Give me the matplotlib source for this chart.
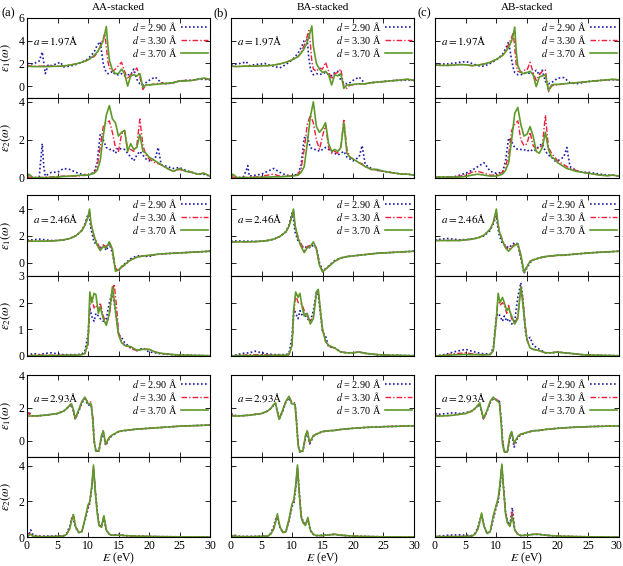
import matplotlib

matplotlib.use("Agg")
import matplotlib.pyplot as plt
from matplotlib.transforms import offset_copy

plt.rcParams["font.family"] = "serif"
plt.rcParams["font.serif"] = ["Liberation Serif", "DejaVu Serif"]
plt.rcParams["mathtext.fontset"] = "stix"

# ---- energy grids (eV), one per (lattice constant, quantity) ----
E1_197 = [0, 1, 2, 2.5, 3, 3.5, 4, 5, 5.5, 6, 7, 8, 9, 10, 11, 11.5, 12, 12.5, 12.75, 13, 13.25, 13.5,
          14, 14.5, 15, 15.5, 16, 16.5, 17, 17.5, 18, 18.5, 19, 19.5, 20, 21, 22, 23, 24, 25, 26, 27, 28, 29, 30]
E2_197 = [0, 0.3, 1, 2, 2.5, 2.75, 3, 4, 5, 6, 7, 8, 9, 10, 11, 11.5, 12, 12.5, 13, 13.5, 14, 14.5, 15,
          15.5, 16, 16.5, 17, 17.5, 18, 18.5, 19, 19.5, 20, 21, 21.5, 22, 23, 24, 25, 26, 27, 28, 29, 30]
E1_246 = [0, 1, 2, 3, 4, 5, 6, 7, 8, 9, 9.5, 10, 10.25, 10.5, 11, 11.5, 12, 12.5, 13, 13.5, 14, 14.5,
          15, 15.5, 16, 17, 18, 19, 20, 21, 22, 24, 26, 28, 30]
E2_246 = [0, 1, 2, 3, 4, 5, 6, 7, 8, 9, 9.5, 10, 10.3, 10.6, 11, 11.3, 11.7, 12, 12.5, 13, 13.5, 14,
          14.3, 14.7, 15, 15.5, 16, 17, 18, 19, 20, 21, 22, 24, 26, 28, 30]
E1_293 = [0, 0.3, 0.6, 1, 2, 3, 4, 5, 6, 6.5, 7, 7.3, 7.6, 7.9, 8.5, 9, 9.5, 10, 10.5, 10.8, 11, 11.3,
          11.8, 12.2, 12.5, 12.9, 13.5, 14, 15, 16, 17, 18, 20, 22, 25, 28, 30]
E2_293 = [0, 0.3, 0.6, 1, 2, 4, 6, 6.5, 7, 7.3, 7.6, 8, 8.5, 9, 9.5, 10, 10.3, 10.6, 10.9, 11.2, 11.5,
          11.8, 12.2, 12.6, 13, 13.5, 14, 15, 16, 17, 18, 20, 22, 25, 30]

# ---- a = 1.97 A, eps1 ----
AA_E1_197_290 = [2.0, 1.95, 2.2, 3.0, 1.1, 1.9, 1.8, 2.0, 2.1, 1.7, 1.75, 1.9, 2.1, 2.4, 3.0, 3.6, 3.9, 2.0, 1.5, 1.2,
                 1.1, 1.1, 1.3, 1.0, 1.0, 1.1, 0.9, 1.0, 1.0, 1.5, 0.6, 0.2, 0.1, 0.3, 0.5, 0.8, 0.3, 0.2, 0.3, 0.45,
                 0.5, 0.5, 0.6, 0.6, 0.55]
AA_E1_197_330 = [1.8, 1.75, 1.75, 1.75, 1.75, 1.75, 1.75, 1.76, 1.77, 1.78, 1.85, 1.95, 2.1, 2.3, 2.6, 2.9, 3.5, 4.2, 4.65, 3.5,
                 2.2, 1.6, 1.3, 1.5, 1.8, 2.1, 1.3, 0.6, 1.0, 1.2, 1.6, 0.8, -0.3, 0.1, 0.1, 0.2, 0.25, 0.2, 0.3, 0.45,
                 0.5, 0.5, 0.6, 0.7, 0.55]
AA_E1_197_370 = [1.75, 1.72, 1.72, 1.72, 1.72, 1.72, 1.73, 1.75, 1.76, 1.78, 1.85, 1.95, 2.1, 2.3, 2.7, 3.0, 3.4, 4.0, 4.6, 5.25,
                 3.6, 2.3, 1.4, 1.1, 1.1, 1.5, 1.1, 0.0, 0.9, 1.0, 0.9, 1.1, -0.1, 0.1, 0.1, 0.15, 0.2, 0.25, 0.3, 0.45,
                 0.45, 0.5, 0.6, 0.7, 0.6]
BA_E1_197_290 = [1.9, 1.95, 2.05, 2.15, 1.8, 1.85, 1.9, 1.95, 2.0, 1.9, 1.75, 1.6, 1.9, 2.3, 2.9, 3.4, 4.0, 4.1, 2.5, 1.6,
                 1.2, 1.0, 1.1, 1.0, 1.1, 1.2, 1.0, 0.9, 1.2, 1.3, 0.5, 0.3, 0.2, 0.3, 0.5, 0.8, 0.2, 0.3, 0.35, 0.4,
                 0.45, 0.5, 0.5, 0.55, 0.5]
BA_E1_197_330 = [1.75, 1.72, 1.75, 1.75, 1.75, 1.75, 1.76, 1.78, 1.8, 1.8, 1.85, 1.95, 2.1, 2.3, 2.6, 3.0, 3.6, 4.4, 4.9, 3.8,
                 2.2, 1.5, 1.3, 1.6, 1.5, 2.1, 1.3, 0.6, 1.1, 1.2, 1.5, 0.0, -0.2, 0.1, 0.1, 0.2, 0.2, 0.3, 0.35, 0.4,
                 0.45, 0.5, 0.55, 0.6, 0.5]
BA_E1_197_370 = [1.75, 1.72, 1.75, 1.75, 1.75, 1.75, 1.76, 1.78, 1.8, 1.8, 1.85, 1.95, 2.1, 2.3, 2.6, 2.9, 3.3, 3.9, 4.3, 4.8,
                 5.3, 3.5, 2.0, 1.5, 1.2, 1.3, 1.0, 0.1, 1.0, 0.9, 1.1, -0.2, 0.1, 0.1, 0.15, 0.2, 0.2, 0.3, 0.35, 0.4,
                 0.45, 0.5, 0.55, 0.6, 0.5]
AB_E1_197_290 = [1.9, 1.95, 1.95, 2.0, 2.0, 2.05, 2.1, 2.15, 2.1, 2.0, 1.8, 1.75, 2.0, 2.3, 2.8, 3.3, 3.9, 2.3, 1.6, 1.2,
                 1.1, 1.0, 1.0, 1.1, 1.2, 1.1, 1.1, 1.4, 1.0, 1.4, 0.4, 0.2, 0.3, 0.5, 0.7, 0.75, 0.3, 0.2, 0.3, 0.4,
                 0.45, 0.5, 0.55, 0.55, 0.55]
AB_E1_197_330 = [1.85, 1.82, 1.82, 1.83, 1.85, 1.87, 1.9, 1.88, 1.85, 1.8, 1.85, 1.95, 2.1, 2.35, 2.7, 3.1, 3.7, 4.3, 4.7, 3.4,
                 1.8, 1.3, 1.2, 1.4, 1.4, 2.1, 1.2, 0.5, 1.0, 1.3, 1.4, -0.5, 0.0, 0.1, 0.1, 0.2, 0.25, 0.3, 0.35, 0.4,
                 0.45, 0.5, 0.55, 0.6, 0.55]
AB_E1_197_370 = [1.85, 1.82, 1.82, 1.83, 1.85, 1.87, 1.9, 1.88, 1.85, 1.8, 1.85, 1.95, 2.1, 2.35, 2.7, 3.0, 3.4, 4.0, 4.5, 5.2,
                 3.0, 1.8, 1.2, 1.1, 1.2, 1.3, 1.0, -0.05, 0.8, 0.9, 1.0, -0.4, 0.1, 0.15, 0.15, 0.2, 0.25, 0.3, 0.35, 0.4,
                 0.45, 0.5, 0.55, 0.6, 0.55]

# ---- a = 1.97 A, eps2 ----
AA_E2_197_290 = [0.0, 0.0, 0.0, 0.05, 1.8, 0.6, 0.1, 0.3, 0.3, 0.5, 0.45, 0.3, 0.2, 0.15, 0.3, 0.8, 2.3, 2.0, 1.6, 1.5,
                 1.5, 1.3, 1.6, 1.5, 1.5, 1.3, 1.1, 0.9, 1.2, 1.4, 1.2, 1.0, 0.9, 1.0, 1.6, 0.7, 0.6, 0.5, 0.55, 0.4,
                 0.3, 0.2, 0.2, 0.1]
AA_E2_197_330 = [0.0, 0.05, 0.03, 0.03, 0.03, 0.03, 0.05, 0.05, 0.08, 0.1, 0.1, 0.1, 0.12, 0.15, 0.25, 0.6, 1.6, 2.7, 2.9, 3.0,
                 2.4, 1.6, 1.4, 2.3, 2.5, 1.5, 1.5, 1.4, 1.7, 3.1, 1.7, 1.2, 1.0, 0.8, 0.75, 0.7, 0.5, 0.35, 0.45, 0.35,
                 0.3, 0.2, 0.25, 0.1]
AA_E2_197_370 = [0.0, 0.2, 0.02, 0.02, 0.02, 0.02, 0.02, 0.03, 0.05, 0.08, 0.1, 0.12, 0.15, 0.15, 0.25, 0.4, 0.9, 2.2, 3.3, 3.8,
                 3.1, 2.9, 2.2, 2.4, 2.5, 1.4, 1.8, 1.5, 1.6, 2.3, 1.4, 1.3, 1.1, 0.9, 0.8, 0.7, 0.5, 0.35, 0.5, 0.35,
                 0.3, 0.2, 0.25, 0.1]
BA_E2_197_290 = [0.0, 0.0, 0.0, 0.05, 0.4, 0.65, 0.1, 0.15, 0.2, 0.35, 0.5, 0.3, 0.15, 0.12, 0.2, 0.7, 2.1, 2.2, 1.6, 1.5,
                 1.5, 1.4, 1.5, 1.6, 1.5, 1.4, 1.3, 1.2, 1.3, 1.4, 1.1, 1.0, 0.9, 1.1, 1.7, 0.7, 0.5, 0.4, 0.35, 0.3,
                 0.25, 0.2, 0.2, 0.15]
BA_E2_197_330 = [0.0, 0.05, 0.03, 0.03, 0.03, 0.03, 0.05, 0.05, 0.08, 0.15, 0.2, 0.1, 0.1, 0.1, 0.2, 0.5, 1.5, 2.8, 3.3, 2.9,
                 2.0, 1.5, 2.2, 2.8, 1.6, 1.3, 1.4, 1.3, 1.6, 3.1, 1.5, 1.1, 1.0, 0.8, 0.75, 0.6, 0.45, 0.4, 0.35, 0.3,
                 0.25, 0.2, 0.2, 0.15]
BA_E2_197_370 = [0.0, 0.2, 0.02, 0.02, 0.02, 0.02, 0.02, 0.03, 0.04, 0.05, 0.06, 0.06, 0.08, 0.1, 0.15, 0.3, 0.6, 1.8, 3.2, 4.0,
                 2.7, 2.4, 2.6, 2.9, 1.8, 1.4, 1.5, 1.4, 1.6, 2.9, 1.3, 1.1, 1.0, 0.8, 0.7, 0.6, 0.45, 0.45, 0.35, 0.3,
                 0.25, 0.2, 0.2, 0.15]
AB_E2_197_290 = [0.0, 0.05, 0.05, 0.05, 0.05, 0.05, 0.05, 0.15, 0.25, 0.4, 0.6, 0.8, 0.35, 0.25, 0.3, 0.9, 2.1, 1.9, 1.6, 1.5,
                 1.5, 1.5, 1.4, 1.5, 1.4, 1.5, 1.7, 1.8, 1.4, 1.2, 1.1, 0.9, 0.9, 1.1, 1.6, 0.6, 0.4, 0.3, 0.3, 0.25,
                 0.2, 0.15, 0.15, 0.1]
AB_E2_197_330 = [0.0, 0.05, 0.05, 0.05, 0.05, 0.05, 0.05, 0.1, 0.15, 0.3, 0.35, 0.25, 0.15, 0.15, 0.3, 0.6, 1.2, 2.5, 2.8, 3.0,
                 2.0, 1.7, 1.8, 2.4, 1.7, 1.5, 1.6, 1.7, 3.3, 1.6, 1.3, 1.1, 0.9, 0.7, 0.6, 0.5, 0.4, 0.3, 0.25, 0.2,
                 0.15, 0.12, 0.15, 0.1]
AB_E2_197_370 = [0.0, 0.05, 0.05, 0.05, 0.05, 0.05, 0.05, 0.05, 0.08, 0.15, 0.2, 0.15, 0.1, 0.1, 0.2, 0.4, 0.8, 2.0, 3.4, 3.7,
                 2.8, 2.2, 2.3, 2.7, 2.2, 1.4, 1.3, 1.6, 2.4, 1.5, 1.1, 1.0, 0.8, 0.6, 0.5, 0.45, 0.35, 0.3, 0.25, 0.2,
                 0.15, 0.12, 0.15, 0.1]

# ---- a = 2.46 A, eps1 ----
AA_E1_246_290 = [1.7, 1.7, 1.75, 1.7, 1.65, 1.65, 1.7, 1.8, 2.0, 2.4, 2.9, 3.6, 3.3, 2.5, 1.5, 1.4, 1.1, 1.3, 0.9, 1.4,
                 0.7, -0.5, -0.6, -0.3, -0.1, 0.3, 0.5, 0.5, 0.45, 0.6, 0.65, 0.7, 0.75, 0.8, 0.85]
AA_E1_246_330 = [1.65, 1.6, 1.6, 1.6, 1.62, 1.65, 1.7, 1.8, 2.0, 2.4, 2.8, 3.4, 3.8, 2.8, 1.9, 1.5, 1.0, 1.3, 1.2, 1.55,
                 0.9, -0.4, -0.65, -0.35, -0.2, 0.2, 0.4, 0.5, 0.5, 0.6, 0.65, 0.7, 0.75, 0.8, 0.85]
AA_E1_246_370 = [1.6, 1.6, 1.6, 1.6, 1.62, 1.65, 1.7, 1.8, 2.0, 2.4, 2.8, 3.4, 4.0, 2.9, 2.0, 1.3, 0.9, 1.2, 1.1, 1.55,
                 1.0, -0.65, -0.55, -0.3, -0.15, 0.2, 0.4, 0.5, 0.55, 0.6, 0.65, 0.7, 0.75, 0.8, 0.85]
BA_E1_246_290 = [1.6, 1.62, 1.6, 1.6, 1.58, 1.6, 1.65, 1.75, 1.95, 2.3, 2.8, 3.7, 3.2, 2.3, 1.6, 1.3, 1.1, 1.2, 1.1, 1.3,
                 1.1, 0.0, -0.6, -0.45, -0.25, 0.15, 0.35, 0.45, 0.5, 0.55, 0.6, 0.7, 0.75, 0.8, 0.85]
BA_E1_246_330 = [1.55, 1.55, 1.55, 1.55, 1.57, 1.6, 1.65, 1.75, 1.95, 2.3, 2.7, 3.5, 3.8, 2.7, 1.9, 1.4, 0.9, 1.2, 1.3, 1.45,
                 1.1, -0.1, -0.65, -0.5, -0.3, 0.1, 0.35, 0.45, 0.5, 0.55, 0.6, 0.7, 0.75, 0.8, 0.85]
BA_E1_246_370 = [1.55, 1.55, 1.55, 1.55, 1.57, 1.6, 1.65, 1.75, 1.95, 2.3, 2.7, 3.5, 4.0, 2.8, 1.8, 1.2, 0.75, 1.1, 1.2, 1.55,
                 1.0, -0.2, -0.7, -0.5, -0.3, 0.1, 0.35, 0.45, 0.5, 0.55, 0.6, 0.7, 0.75, 0.8, 0.85]
AB_E1_246_290 = [1.7, 1.75, 1.8, 1.75, 1.7, 1.72, 1.75, 1.85, 2.0, 2.4, 2.9, 3.5, 2.6, 2.0, 1.4, 1.3, 1.1, 1.3, 1.5, 1.4,
                 0.3, -0.8, -0.4, 0.0, 0.2, 0.35, 0.45, 0.5, 0.55, 0.55, 0.6, 0.68, 0.75, 0.8, 0.85]
AB_E1_246_330 = [1.65, 1.65, 1.65, 1.65, 1.65, 1.7, 1.75, 1.85, 2.05, 2.5, 3.0, 3.8, 2.9, 2.3, 1.7, 1.2, 0.95, 1.2, 1.35, 1.3,
                 0.5, -0.65, -0.3, 0.1, 0.2, 0.35, 0.45, 0.5, 0.55, 0.55, 0.6, 0.68, 0.75, 0.8, 0.85]
AB_E1_246_370 = [1.65, 1.65, 1.65, 1.65, 1.65, 1.7, 1.75, 1.85, 2.05, 2.5, 3.0, 4.0, 3.0, 2.3, 1.6, 1.1, 0.85, 1.1, 1.3, 1.4,
                 0.6, -0.75, -0.3, 0.1, 0.2, 0.35, 0.45, 0.5, 0.55, 0.55, 0.6, 0.68, 0.75, 0.8, 0.85]

# ---- a = 2.46 A, eps2 ----
AA_E2_246_290 = [0.0, 0.1, 0.05, 0.1, 0.12, 0.08, 0.05, 0.05, 0.05, 0.07, 0.2, 0.8, 1.8, 1.5, 1.3, 1.6, 1.5, 1.4, 1.3, 1.4,
                 2.0, 2.4, 2.0, 1.4, 0.8, 0.7, 0.5, 0.3, 0.2, 0.3, 0.15, 0.12, 0.08, 0.05, 0.03, 0.02, 0.01]
AA_E2_246_330 = [0.0, 0.03, 0.03, 0.03, 0.03, 0.03, 0.03, 0.03, 0.04, 0.05, 0.1, 0.4, 1.9, 2.2, 1.8, 1.9, 1.7, 2.0, 1.5, 1.2,
                 1.5, 2.4, 2.7, 1.8, 0.9, 0.55, 0.4, 0.3, 0.2, 0.25, 0.25, 0.15, 0.1, 0.05, 0.03, 0.02, 0.01]
AA_E2_246_370 = [0.0, 0.02, 0.02, 0.02, 0.02, 0.02, 0.02, 0.03, 0.03, 0.05, 0.1, 0.5, 2.4, 2.0, 2.35, 2.3, 1.6, 1.85, 1.4, 1.15,
                 1.6, 2.6, 2.1, 1.3, 0.8, 0.5, 0.4, 0.35, 0.22, 0.25, 0.25, 0.15, 0.1, 0.05, 0.03, 0.02, 0.01]
BA_E2_246_290 = [0.0, 0.05, 0.1, 0.12, 0.18, 0.12, 0.08, 0.05, 0.05, 0.05, 0.1, 0.7, 1.8, 1.6, 1.4, 1.7, 1.5, 1.6, 1.4, 1.3,
                 1.7, 2.4, 2.3, 1.5, 0.9, 0.75, 0.35, 0.3, 0.15, 0.12, 0.12, 0.15, 0.1, 0.05, 0.03, 0.02, 0.01]
BA_E2_246_330 = [0.0, 0.02, 0.03, 0.05, 0.05, 0.05, 0.04, 0.03, 0.03, 0.03, 0.05, 0.4, 1.6, 2.3, 2.0, 2.0, 1.9, 1.7, 1.5, 1.3,
                 1.5, 2.3, 2.5, 1.7, 1.0, 0.55, 0.35, 0.3, 0.15, 0.12, 0.12, 0.15, 0.1, 0.05, 0.03, 0.02, 0.01]
BA_E2_246_370 = [0.0, 0.02, 0.02, 0.02, 0.02, 0.02, 0.02, 0.02, 0.03, 0.03, 0.05, 0.4, 1.8, 2.4, 2.2, 2.35, 1.8, 1.5, 1.6, 1.2,
                 1.4, 2.4, 2.5, 1.6, 1.0, 0.55, 0.4, 0.3, 0.15, 0.12, 0.12, 0.15, 0.1, 0.05, 0.03, 0.02, 0.01]
AB_E2_246_290 = [0.0, 0.03, 0.08, 0.15, 0.2, 0.25, 0.18, 0.12, 0.08, 0.08, 0.3, 1.5, 1.6, 1.5, 1.3, 1.5, 1.3, 1.4, 1.2, 1.3,
                 2.2, 2.75, 2.2, 1.0, 0.6, 0.7, 0.4, 0.25, 0.12, 0.12, 0.15, 0.12, 0.1, 0.05, 0.03, 0.02, 0.01]
AB_E2_246_330 = [0.0, 0.02, 0.05, 0.08, 0.1, 0.12, 0.08, 0.06, 0.05, 0.06, 0.2, 1.3, 2.2, 1.9, 2.0, 1.9, 1.6, 1.9, 1.4, 1.2,
                 1.5, 2.6, 2.2, 1.2, 0.65, 0.3, 0.25, 0.2, 0.12, 0.12, 0.15, 0.12, 0.1, 0.05, 0.03, 0.02, 0.01]
AB_E2_246_370 = [0.0, 0.02, 0.03, 0.04, 0.05, 0.06, 0.05, 0.05, 0.04, 0.05, 0.2, 1.4, 2.35, 2.0, 2.2, 2.0, 1.7, 1.8, 1.5, 1.2,
                 1.4, 2.6, 2.0, 1.1, 0.6, 0.3, 0.25, 0.2, 0.12, 0.12, 0.15, 0.12, 0.1, 0.05, 0.03, 0.02, 0.01]

# ---- a = 2.93 A, eps1 ----
AA_E1_293_290 = [1.6, 1.75, 1.6, 1.5, 1.52, 1.55, 1.6, 1.65, 1.8, 1.95, 2.1, 2.2, 1.8, 1.3, 1.8, 2.3, 2.55, 2.15, 2.2, 1.3,
                 -0.1, -0.7, -0.6, 0.15, 0.5, -0.3, 0.15, 0.3, 0.55, 0.6, 0.66, 0.7, 0.75, 0.8, 0.88, 0.92, 0.95]
AA_E1_293_330 = [1.55, 1.7, 1.5, 1.5, 1.52, 1.55, 1.6, 1.65, 1.8, 1.95, 2.15, 2.2, 1.85, 1.3, 1.85, 2.35, 2.6, 2.35, 2.35, 1.4,
                 0.1, -0.6, -0.65, 0.2, 0.55, -0.25, 0.2, 0.35, 0.55, 0.62, 0.66, 0.7, 0.75, 0.8, 0.88, 0.92, 0.95]
AA_E1_293_370 = [1.5, 1.5, 1.5, 1.5, 1.52, 1.55, 1.6, 1.65, 1.8, 1.95, 2.15, 2.25, 1.9, 1.35, 1.9, 2.4, 2.65, 2.25, 2.25, 1.2,
                 0.0, -0.65, -0.6, 0.3, 0.6, -0.2, 0.2, 0.35, 0.55, 0.62, 0.66, 0.7, 0.75, 0.8, 0.88, 0.92, 0.95]
BA_E1_293_290 = [1.65, 1.6, 1.55, 1.5, 1.52, 1.55, 1.6, 1.65, 1.8, 1.95, 2.15, 2.2, 1.75, 1.3, 1.8, 2.35, 2.6, 2.2, 2.2, 0.9,
                 -0.3, -0.75, -0.6, 0.2, 0.5, -0.2, 0.25, 0.4, 0.55, 0.6, 0.62, 0.68, 0.75, 0.8, 0.85, 0.88, 0.9]
BA_E1_293_330 = [1.6, 1.55, 1.5, 1.5, 1.52, 1.55, 1.6, 1.65, 1.8, 1.95, 2.2, 2.25, 1.8, 1.3, 1.85, 2.4, 2.65, 2.35, 2.3, 1.0,
                 -0.2, -0.65, -0.65, 0.2, 0.55, -0.15, 0.3, 0.4, 0.55, 0.6, 0.62, 0.68, 0.75, 0.8, 0.85, 0.88, 0.9]
BA_E1_293_370 = [1.5, 1.5, 1.5, 1.5, 1.52, 1.55, 1.6, 1.65, 1.8, 1.95, 2.2, 2.3, 1.8, 1.3, 1.9, 2.4, 2.7, 2.25, 2.2, 0.8,
                 -0.3, -0.7, -0.6, 0.3, 0.6, -0.1, 0.3, 0.4, 0.55, 0.6, 0.62, 0.68, 0.75, 0.8, 0.85, 0.88, 0.9]
AB_E1_293_290 = [1.65, 1.62, 1.6, 1.62, 1.65, 1.7, 1.65, 1.7, 1.8, 1.95, 2.1, 2.2, 1.75, 1.3, 1.8, 2.3, 2.55, 2.5, 2.4, 1.3,
                 0.1, -0.7, -0.7, 0.1, 0.45, -0.4, 0.2, 0.35, 0.5, 0.6, 0.62, 0.68, 0.75, 0.8, 0.85, 0.88, 0.9]
AB_E1_293_330 = [1.55, 1.55, 1.52, 1.5, 1.52, 1.55, 1.6, 1.65, 1.8, 1.95, 2.15, 2.25, 1.8, 1.3, 1.8, 2.35, 2.6, 2.5, 2.4, 1.2,
                 0.0, -0.65, -0.7, 0.2, 0.5, -0.2, 0.25, 0.4, 0.5, 0.6, 0.62, 0.68, 0.75, 0.8, 0.85, 0.88, 0.9]
AB_E1_293_370 = [1.5, 1.5, 1.5, 1.5, 1.52, 1.55, 1.6, 1.65, 1.8, 1.95, 2.15, 2.3, 1.8, 1.35, 1.85, 2.4, 2.65, 2.45, 2.3, 1.0,
                 -0.2, -0.7, -0.65, 0.3, 0.55, -0.15, 0.25, 0.4, 0.5, 0.6, 0.62, 0.68, 0.75, 0.8, 0.85, 0.88, 0.9]

# ---- a = 2.93 A, eps2 ----
AA_E2_293_290 = [0.0, 0.1, 0.4, 0.1, 0.05, 0.05, 0.07, 0.2, 0.6, 1.05, 1.0, 0.5, 0.25, 0.3, 0.9, 1.6, 1.9, 2.7, 3.8, 2.6,
                 1.5, 0.7, 0.55, 1.1, 0.4, 0.15, 0.1, 0.15, 0.08, 0.06, 0.05, 0.03, 0.02, 0.01, 0.0]
AA_E2_293_330 = [0.0, 0.2, 0.1, 0.05, 0.03, 0.03, 0.05, 0.15, 0.5, 1.0, 1.3, 0.55, 0.25, 0.3, 1.0, 1.7, 2.0, 2.8, 3.95, 2.6,
                 1.5, 0.7, 0.55, 1.15, 0.35, 0.15, 0.1, 0.12, 0.08, 0.06, 0.05, 0.03, 0.02, 0.01, 0.0]
AA_E2_293_370 = [0.0, 0.1, 0.15, 0.05, 0.02, 0.02, 0.05, 0.15, 0.45, 0.9, 1.25, 0.55, 0.25, 0.3, 1.0, 1.8, 2.0, 2.8, 4.05, 2.5,
                 1.4, 0.65, 0.55, 1.2, 0.4, 0.15, 0.1, 0.1, 0.08, 0.06, 0.05, 0.03, 0.02, 0.01, 0.0]
BA_E2_293_290 = [0.0, 0.05, 0.1, 0.05, 0.03, 0.04, 0.05, 0.2, 0.6, 1.0, 1.1, 0.55, 0.25, 0.3, 0.9, 1.7, 1.9, 2.7, 3.8, 2.5,
                 1.2, 0.9, 0.7, 1.0, 0.35, 0.15, 0.08, 0.1, 0.12, 0.15, 0.1, 0.05, 0.03, 0.01, 0.0]
BA_E2_293_330 = [0.0, 0.05, 0.05, 0.03, 0.02, 0.02, 0.05, 0.15, 0.5, 0.9, 1.2, 0.6, 0.25, 0.3, 0.9, 1.8, 2.0, 2.8, 3.9, 2.5,
                 1.2, 0.85, 0.7, 1.0, 0.4, 0.15, 0.08, 0.08, 0.12, 0.15, 0.1, 0.05, 0.03, 0.01, 0.0]
BA_E2_293_370 = [0.0, 0.08, 0.05, 0.03, 0.02, 0.02, 0.05, 0.15, 0.45, 0.8, 1.3, 0.6, 0.25, 0.3, 1.0, 1.85, 2.1, 2.9, 4.05, 2.4,
                 1.1, 0.8, 0.65, 1.1, 0.4, 0.15, 0.08, 0.08, 0.12, 0.15, 0.1, 0.05, 0.03, 0.01, 0.0]
AB_E2_293_290 = [0.0, 0.05, 0.05, 0.05, 0.1, 0.12, 0.08, 0.2, 0.55, 0.95, 1.2, 0.6, 0.2, 0.3, 1.0, 1.7, 2.0, 2.8, 3.95, 2.7,
                 1.4, 0.9, 0.65, 1.65, 0.4, 0.15, 0.08, 0.1, 0.15, 0.15, 0.1, 0.05, 0.03, 0.01, 0.0]
AB_E2_293_330 = [0.0, 0.03, 0.03, 0.02, 0.03, 0.03, 0.05, 0.15, 0.5, 0.9, 1.3, 0.6, 0.2, 0.3, 1.1, 1.8, 2.1, 2.9, 4.0, 2.7,
                 1.4, 0.9, 0.65, 1.4, 0.4, 0.15, 0.08, 0.1, 0.15, 0.15, 0.1, 0.05, 0.03, 0.01, 0.0]
AB_E2_293_370 = [0.0, 0.03, 0.03, 0.02, 0.02, 0.02, 0.05, 0.15, 0.45, 0.85, 1.35, 0.6, 0.2, 0.3, 1.2, 1.8, 2.2, 3.0, 4.1, 2.6,
                 1.3, 0.8, 0.6, 1.15, 0.4, 0.15, 0.08, 0.1, 0.15, 0.15, 0.1, 0.05, 0.03, 0.01, 0.0]

STACKINGS = ["AA", "BA", "AB"]
TITLES = ["AA-stacked", "BA-stacked", "AB-stacked"]
TAGS = ["(a)", "(b)", "(c)"]
A_VALUES = ["1.97", "2.46", "2.93"]
D_VALUES = ["2.90", "3.30", "3.70"]

GRIDS = {
    ("1.97", 1): E1_197, ("1.97", 2): E2_197,
    ("2.46", 1): E1_246, ("2.46", 2): E2_246,
    ("2.93", 1): E1_293, ("2.93", 2): E2_293,
}
_names = globals()


def curves(stack, a, k):
    tag = a.replace(".", "")
    return [_names[f"{stack}_E{k}_{tag}_{d.replace('.', '')}"] for d in D_VALUES]


YLIMS = {
    ("1.97", 1): (-1.05, 6), ("1.97", 2): (0, 4.2),
    ("2.46", 1): (-1.0, 5.05), ("2.46", 2): (0, 3),
    ("2.93", 1): (-1.0, 4), ("2.93", 2): (0, 4.5),
}
YTICKS = {
    ("1.97", 1): [0, 2, 4, 6], ("1.97", 2): [0, 2, 4],
    ("2.46", 1): [0, 2, 4], ("2.46", 2): [0, 1, 2, 3],
    ("2.93", 1): [0, 2, 4], ("2.93", 2): [0, 2, 4],
}

STYLES = [
    dict(color="#1c1ca8", linestyle=(0, (1, 1.4)), linewidth=1.2),
    dict(color="#f01e3c", linestyle=(0, (4, 1.5, 1, 1.5)), linewidth=1.0),
    dict(color="#5e9a2a", linestyle="-", linewidth=1.2),
]

# layout in pixels of the 623x566 canvas
W, H = 623, 566
COL_X = [(27, 210), (231, 414), (435, 619)]
ROW_Y = [(18, 98, 178), (195, 276, 356), (375, 457, 537)]
TAG_X = [1, 214, 418]

fig = plt.figure(figsize=(W / 100, H / 100), dpi=100)

for ci, stack in enumerate(STACKINGS):
    x0, x1 = COL_X[ci]
    for ri, a in enumerate(A_VALUES):
        ytop, ymid, ybot = ROW_Y[ri]
        for k, (ya, yb) in ((1, (ytop, ymid)), (2, (ymid, ybot))):
            ax = fig.add_axes([x0 / W, 1 - yb / H, (x1 - x0) / W, (yb - ya) / H])
            energy = GRIDS[(a, k)]
            for d, vals, st in zip(D_VALUES, curves(stack, a, k), STYLES):
                ax.plot(energy, vals, label=f"$d$ = {d} Å", **st)
            ax.set_xlim(0, 30)
            ax.set_ylim(*YLIMS[(a, k)])
            ax.set_xticks([0, 5, 10, 15, 20, 25, 30])
            ax.set_yticks(YTICKS[(a, k)])
            ax.tick_params(direction="in", top=True, right=True, length=3.5, width=0.6,
                           labelsize=8.5, pad=2)
            last = ri == 2 and k == 2
            ax.tick_params(labelbottom=last, labelleft=(ci == 0))
            for sp in ax.spines.values():
                sp.set_linewidth(0.8)
            if ci == 0:
                ax.set_ylabel(rf"$\varepsilon_{k}(\omega)$", fontsize=9)
                ax.yaxis.set_label_coords(-0.075, 0.5)
            if last:
                ax.set_xlabel("$E$ (eV)", fontsize=8.5, labelpad=-1)
                if ci == 2:
                    # keep the final "30" inside the canvas
                    lab = ax.xaxis.get_major_ticks()[-1].label1
                    lab.set_horizontalalignment("right")
                    lab.set_transform(offset_copy(lab.get_transform(), fig=fig, x=3, units="dots"))
            if k == 1:
                ax.text(0.035, 0.71, f"$a = {a}$Å", transform=ax.transAxes, fontsize=8,
                        va="center", ha="left")
                ax.legend(loc="upper right", frameon=False, markerfirst=False, fontsize=7.3,
                          handlelength=2.7, labelspacing=0.0, borderaxespad=0.1,
                          borderpad=0.05, handletextpad=0.4)
    fig.text((x0 + x1) / 2 / W, 1 - 7 / H, TITLES[ci], ha="center", va="center", fontsize=8)
    fig.text(TAG_X[ci] / W, 1 - 13 / H, TAGS[ci], ha="left", va="center", fontsize=9)

fig.savefig("out.png", dpi=100)
